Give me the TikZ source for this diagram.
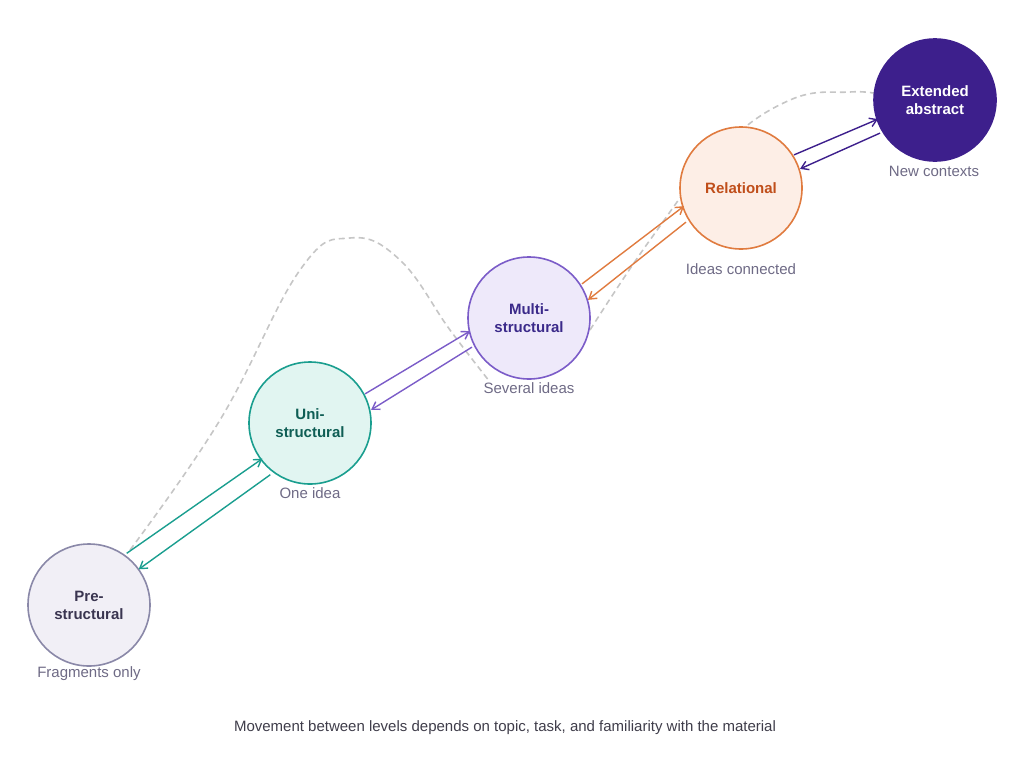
\documentclass[tikz,border=0pt]{standalone}
\usepackage{fontspec}
\setmainfont{Liberation Sans}
\usetikzlibrary{arrows.meta}
\definecolor{preS}{HTML}{8A88A8}\definecolor{preF}{HTML}{F1EFF6}\definecolor{preT}{HTML}{3A3550}
\definecolor{uniS}{HTML}{1A9E8F}\definecolor{uniF}{HTML}{E1F5F1}\definecolor{uniT}{HTML}{0F5E55}
\definecolor{mulS}{HTML}{7B5CC8}\definecolor{mulF}{HTML}{EEE9FA}\definecolor{mulT}{HTML}{3B2A8A}
\definecolor{relS}{HTML}{E07B3F}\definecolor{relF}{HTML}{FDEEE6}\definecolor{relT}{HTML}{C04E1A}
\definecolor{extF}{HTML}{3D1F8C}
\definecolor{lab}{HTML}{6E6A85}\definecolor{cap}{HTML}{3F3D4A}
\begin{document}
\begin{tikzpicture}[x=1pt,y=-1pt,
 lvl/.style={circle,minimum size=122pt,inner sep=0pt,line width=1.6pt,align=center,font=\bfseries\fontsize{15}{18}\selectfont},
 lb/.style={font=\fontsize{15}{18}\selectfont,text=lab},
 ar/.style={line width=1.4pt,-{Straight Barb[length=7pt,width=9pt]}},
 dsh/.style={draw=gray!45,line width=1.6pt,dash pattern=on 6pt off 4pt}]
\useasboundingbox (0,0) rectangle (1024,779);
\draw[dsh] plot[smooth,tension=0.7] coordinates {(130,550) (220,420) (300,270) (350,238) (400,260) (450,330) (490,382)};
\draw[dsh] plot[smooth,tension=0.7] coordinates {(590,330) (650,240) (720,150) (790,100) (850,92) (878,94)};
\node[lvl,draw=preS,fill=preF,text=preT] (pre) at (89,605) {Pre-\\structural};
\node[lvl,draw=uniS,fill=uniF,text=uniT] (uni) at (310,423) {Uni-\\structural};
\node[lvl,draw=mulS,fill=mulF,text=mulT] (mul) at (529,318) {Multi-\\structural};
\node[lvl,draw=relS,fill=relF,text=relT] (rel) at (741,188) {Relational};
\node[lvl,draw=extF,fill=extF,text=white] (ext) at (935,100) {Extended\\abstract};
\node[lb] (l1) at (89,674) {Fragments only};
\node[lb] (l2) at (310,493) {One idea};
\node[lb] (l3) at (529,388) {Several ideas};
\node[lb] (l4) at (741,269) {Ideas connected};
\node[lb] (l5) at (934,171) {New contexts};
\node[font=\fontsize{15}{18}\selectfont,text=cap] (c) at (505,728) {Movement between levels depends on topic, task, and familiarity with the material};
\draw[ar,uniS] ([shift={(-6,-8)}]pre.45) -- ([shift={(-4,-8)}]uni.225);
\draw[ar,uniS] ([shift={(4,8)}]uni.225) -- ([shift={(6,8)}]pre.45);
\draw[ar,mulS] ([shift={(-3,-8)}]uni.20) -- ([shift={(-1,-8)}]mul.200);
\draw[ar,mulS] ([shift={(1,8)}]mul.200) -- ([shift={(3,8)}]uni.20);
\draw[ar,relS] ([shift={(-3,-8)}]mul.25) -- ([shift={(-1,-8)}]rel.205);
\draw[ar,relS] ([shift={(1,8)}]rel.205) -- ([shift={(3,8)}]mul.25);
\draw[ar,extF] ([shift={(-3,-7)}]rel.25) -- ([shift={(-1,-7)}]ext.205);
\draw[ar,extF] ([shift={(1,7)}]ext.205) -- ([shift={(3,7)}]rel.25);
\end{tikzpicture}
\end{document}
